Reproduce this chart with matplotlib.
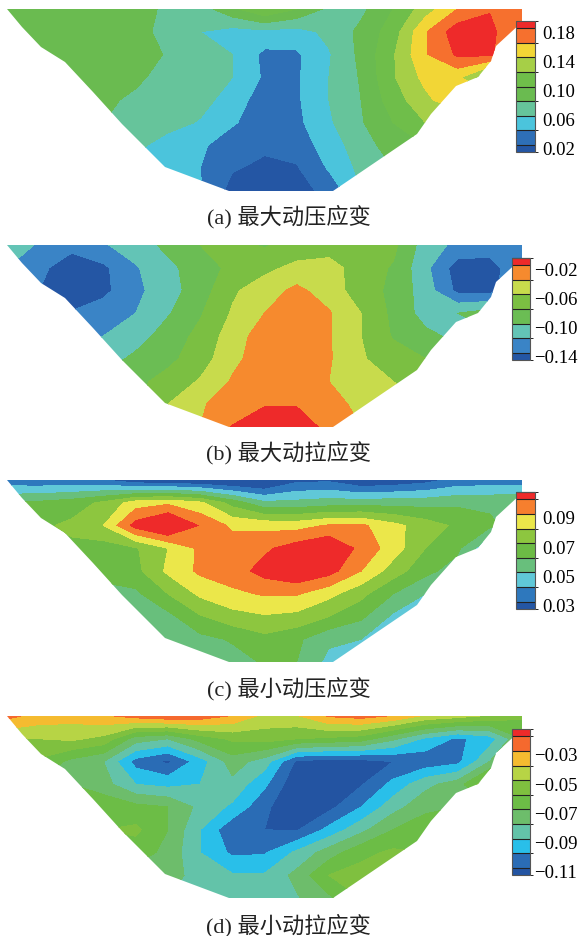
import numpy as np
import matplotlib
matplotlib.use('Agg')
import matplotlib.pyplot as plt
from matplotlib.cm import ScalarMappable
from matplotlib.colors import ListedColormap, BoundaryNorm
from matplotlib.patches import Polygon
from matplotlib.transforms import ScaledTranslation

plt.rcParams['font.family'] = ['Liberation Serif', 'Noto Sans CJK SC']
plt.rcParams['axes.unicode_minus'] = True

W, H = 580, 937

# section coordinates of the value grid
grid_x = np.linspace(0, 515, 17)
grid_y = np.linspace(0, 182, 9)

# valley outline
outline_x = [0, 15, 34, 58, 86, 115, 158, 222, 326, 410, 424, 449, 471, 484, 489, 515, 515]
outline_y = [0, 18, 38, 53, 83, 115, 158, 182, 182, 125, 105, 77, 68, 52, 37, 13, 0]

values_a = [
    [.095, .095, .100, .095, .090, .075, .070, .095, .119, .100, .075, .075, .100, .130, .160, .178, .175],
    [.090, .095, .100, .100, .090, .070, .060, .052, .055, .052, .065, .085, .110, .158, .192, .188, .150],
    [.090, .090, .095, .095, .090, .078, .070, .060, .035, .037, .058, .085, .118, .158, .183, .185, .140],
    [.090, .090, .090, .090, .085, .070, .070, .060, .037, .037, .060, .082, .118, .146, .145, .100, .090],
    [.090, .090, .090, .085, .075, .070, .068, .050, .030, .037, .060, .080, .110, .135, .155, .150, .150],
    [.080, .080, .080, .080, .075, .068, .058, .042, .030, .035, .057, .078, .100, .120, .120, .120, .120],
    [.070, .070, .070, .070, .065, .050, .043, .030, .024, .028, .050, .070, .090, .100, .100, .100, .100],
    [.060, .060, .060, .060, .060, .052, .040, .022, .015, .018, .042, .065, .080, .090, .090, .090, .090],
    [.060, .060, .060, .060, .060, .055, .042, .012, .011, .012, .026, .060, .080, .090, .090, .090, .090],
]
values_b = [
    [-.110, -.122, -.130, -.122, -.110, -.095, -.080, -.075, -.082, -.072, -.070, -.070, -.075, -.110, -.125, -.128, -.125],
    [-.120, -.132, -.158, -.144, -.122, -.105, -.090, -.075, -.065, -.055, -.052, -.070, -.082, -.115, -.150, -.150, -.120],
    [-.120, -.140, -.158, -.145, -.125, -.108, -.090, -.063, -.050, -.035, -.050, -.070, -.085, -.110, -.145, -.148, -.120],
    [-.130, -.130, -.138, -.130, -.120, -.102, -.082, -.058, -.040, -.030, -.038, -.060, -.085, -.108, -.100, -.090, -.090],
    [-.140, -.140, -.140, -.120, -.110, -.090, -.075, -.050, -.030, -.028, -.038, -.060, -.082, -.095, -.105, -.105, -.105],
    [-.110, -.110, -.110, -.110, -.095, -.085, -.070, -.045, -.030, -.027, -.038, -.058, -.070, -.080, -.090, -.090, -.090],
    [-.085, -.085, -.085, -.085, -.085, -.073, -.058, -.038, -.030, -.027, -.040, -.050, -.060, -.070, -.070, -.070, -.070],
    [-.080, -.080, -.080, -.080, -.080, -.060, -.042, -.032, -.021, -.021, -.033, -.045, -.055, -.060, -.060, -.060, -.060],
    [-.070, -.070, -.070, -.070, -.070, -.055, -.040, -.019, -.012, -.012, -.024, -.040, -.050, -.050, -.050, -.050, -.050],
]
values_c = [
    [.033, .032, .032, .030, .022, .020, .018, .016, .015, .027, .028, .020, .022, .026, .033, .034, .034],
    [.060, .062, .065, .072, .085, .088, .082, .066, .052, .053, .055, .055, .056, .056, .058, .058, .060],
    [.065, .068, .072, .080, .104, .115, .099, .088, .087, .086, .091, .092, .083, .075, .068, .062, .055],
    [.068, .068, .068, .065, .069, .080, .092, .095, .098, .105, .110, .097, .085, .070, .062, .040, .050],
    [.065, .065, .065, .065, .067, .082, .092, .095, .104, .110, .104, .090, .075, .063, .055, .050, .050],
    [.055, .055, .055, .055, .058, .070, .082, .088, .091, .091, .083, .073, .060, .050, .050, .050, .050],
    [.050, .050, .050, .050, .050, .057, .069, .076, .079, .077, .070, .062, .048, .045, .045, .045, .045],
    [.050, .050, .050, .050, .050, .052, .057, .061, .067, .062, .052, .050, .050, .050, .050, .050, .050],
    [.050, .050, .050, .050, .050, .050, .053, .056, .061, .060, .047, .045, .045, .045, .045, .045, .045],
]
values_d = [
    [-.027, -.034, -.036, -.032, -.026, -.022, -.024, -.031, -.043, -.041, -.029, -.026, -.031, -.042, -.046, -.052, -.058],
    [-.050, -.050, -.048, -.053, -.075, -.080, -.066, -.058, -.056, -.060, -.062, -.065, -.078, -.092, -.102, -.095, -.070],
    [-.060, -.062, -.073, -.080, -.104, -.112, -.095, -.075, -.085, -.112, -.115, -.114, -.110, -.107, -.103, -.080, -.060],
    [-.070, -.070, -.070, -.076, -.090, -.093, -.090, -.083, -.098, -.118, -.118, -.111, -.097, -.083, -.075, -.050, -.060],
    [-.060, -.060, -.060, -.063, -.067, -.070, -.083, -.092, -.108, -.118, -.113, -.100, -.084, -.073, -.070, -.070, -.070],
    [-.060, -.060, -.060, -.060, -.058, -.070, -.090, -.108, -.110, -.111, -.097, -.083, -.070, -.063, -.065, -.065, -.065],
    [-.065, -.065, -.065, -.065, -.065, -.073, -.090, -.102, -.101, -.088, -.075, -.063, -.058, -.060, -.060, -.060, -.060],
    [-.075, -.075, -.075, -.075, -.075, -.075, -.085, -.089, -.089, -.077, -.060, -.056, -.055, -.055, -.055, -.055, -.055],
    [-.080, -.080, -.080, -.080, -.080, -.080, -.083, -.085, -.085, -.081, -.072, -.060, -.055, -.055, -.055, -.055, -.055],
]

levels_a = [.01, .02, .04, .06, .08, .10, .12, .14, .16, .18, .19]
levels_b = [-.15, -.14, -.12, -.10, -.08, -.06, -.04, -.02, -.01]
levels_c = [.025, .03, .04, .05, .06, .07, .08, .09, .10, .105]
levels_d = [-.115, -.11, -.10, -.09, -.08, -.07, -.06, -.05, -.04, -.03, -.02, -.015]

colors_a = ['#2456a4', '#2e6fb7', '#4bc4dc', '#66c49b', '#6abb50', '#6fbe4a', '#a6cf47', '#f2d636', '#f6702e', '#ee2a2a']
colors_b = ['#2456a4', '#3a84c6', '#63c4b6', '#6bbd54', '#7bbf42', '#c8db4c', '#f68a2e', '#ee2a2a']
colors_c = ['#2456a4', '#2e78bd', '#60c8d8', '#68bf7c', '#6cbb45', '#8dc63f', '#ebe74a', '#f67f2e', '#ee2a2a']
colors_d = ['#2354a2', '#2a6cb5', '#29bfe9', '#63c3a9', '#6dbd6b', '#6cbd46', '#7fc03f', '#b7d445',
            '#f5bb30', '#f5692e', '#ee2a2a']

ticks_a = [.02, .06, .10, .14, .18]
ticks_b = [-.14, -.10, -.06, -.02]
ticks_c = [.03, .05, .07, .09]
ticks_d = [-.11, -.09, -.07, -.05, -.03]

captions = ['(a) 最大动压应变', '(b) 最大动拉应变', '(c) 最小动压应变', '(d) 最小动拉应变']
caption_y = [217, 453, 689, 926]

panels = [
    (values_a, levels_a, colors_a, ticks_a, 10, (515.5, 534.5, 22, 153), 5.5),
    (values_b, levels_b, colors_b, ticks_b, 246, (512, 530, 259, 361), 3),
    (values_c, levels_c, colors_c, ticks_c, 481, (515.5, 534.5, 493, 610), 5.5),
    (values_d, levels_d, colors_d, ticks_d, 717, (512, 530, 730, 876), 3),
]

fig = plt.figure(figsize=(W / 100, H / 100), dpi=100)

for vals, levels, colors, ticks, top, bar, pad in panels:
    ax = fig.add_axes([7 / W, 1 - (top + 182) / H, 515 / W, 182 / H])
    z = np.array(vals)
    # end bands are open in the field, the colour bar shows them shorter
    fill_levels = [z.min() - 1] + levels[1:-1] + [z.max() + 1]
    cs = ax.contourf(grid_x, grid_y, z, levels=fill_levels, colors=colors)
    valley = Polygon(np.column_stack([outline_x, outline_y]), closed=True, transform=ax.transData,
                     facecolor='none', edgecolor='none')
    ax.add_patch(valley)
    cs.set_clip_path(valley)
    ax.set_xlim(0, 515)
    ax.set_ylim(182, 0)
    ax.axis('off')

    cax = fig.add_axes([bar[0] / W, 1 - bar[3] / H, (bar[1] - bar[0]) / W, (bar[3] - bar[2]) / H])
    cmap = ListedColormap(colors)
    sm = ScalarMappable(norm=BoundaryNorm(levels, cmap.N), cmap=cmap)
    cb = fig.colorbar(sm, cax=cax, spacing='proportional', ticks=ticks, drawedges=True)
    cb.dividers.set_color('#222222')
    cb.dividers.set_linewidth(0.8)
    cb.outline.set_edgecolor('#555555')
    cb.outline.set_linewidth(0.8)
    cax.tick_params(length=0, pad=pad, labelsize=13.5)
    cax.set_yticklabels([f'{t:.2f}'.replace('-', '\u2212') for t in ticks])
    # labels sit a little below their level in the original
    for lab in cax.get_yticklabels():
        lab.set_transform(lab.get_transform() + ScaledTranslation(0, -3 / 100, fig.dpi_scale_trans))

for cap, y in zip(captions, caption_y):
    fig.text(289 / W, 1 - y / H, cap, ha='center', va='center', fontsize=16, color='#222222')

fig.savefig('out.png', dpi=100, facecolor='white')
